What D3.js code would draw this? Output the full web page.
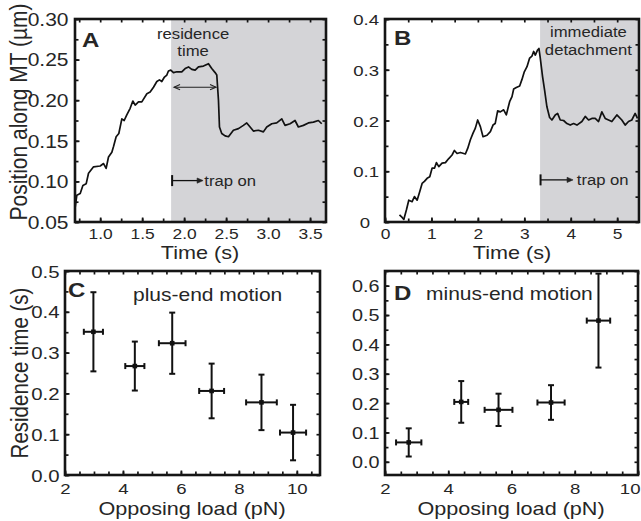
<!DOCTYPE html>
<html><head><meta charset="utf-8">
<script src="https://cdn.jsdelivr.net/npm/d3@7"></script>
<style>
body{margin:0;background:#fff}
svg{display:block}
text{font-family:"Liberation Sans",Arial,Helvetica,sans-serif;fill:#262626}
</style>
</head><body>
<svg id="c" width="641" height="521"></svg>
<script>
// ---------------- data ----------------
// Panel A: position trace (time s, position µm)
const traceATime = [0.702,0.722,0.762,0.794,0.833,0.861,0.921,1.000,1.040,1.071,1.099,1.139,1.159,1.190,1.222,1.258,1.286,1.317,1.357,1.389,1.417,1.456,1.496,1.556,1.595,1.635,1.675,1.706,1.734,1.762,1.794,1.813,1.841,1.873,1.913,1.972,2.012,2.052,2.091,2.131,2.171,2.230,2.290,2.329,2.369,2.389,2.409,2.421,2.448,2.488,2.528,2.587,2.647,2.706,2.746,2.786,2.825,2.885,2.944,2.984,3.044,3.103,3.163,3.202,3.262,3.321,3.361,3.421,3.480,3.540,3.599,3.639];
const traceAPos  = [0.068,0.083,0.085,0.095,0.097,0.110,0.118,0.119,0.122,0.116,0.130,0.136,0.143,0.155,0.159,0.177,0.175,0.182,0.190,0.199,0.194,0.198,0.198,0.208,0.210,0.216,0.223,0.225,0.223,0.228,0.231,0.236,0.237,0.234,0.235,0.235,0.239,0.241,0.238,0.237,0.241,0.242,0.245,0.239,0.234,0.231,0.200,0.167,0.159,0.156,0.155,0.163,0.165,0.169,0.172,0.167,0.162,0.163,0.161,0.167,0.171,0.172,0.177,0.169,0.171,0.175,0.167,0.169,0.172,0.173,0.175,0.171];
// Panel B: position trace
const traceBTime = [0.312,0.369,0.405,0.462,0.512,0.584,0.634,0.692,0.749,0.799,0.849,0.907,0.964,1.014,1.065,1.108,1.158,1.229,1.301,1.373,1.444,1.495,1.552,1.624,1.731,1.781,1.839,1.896,1.946,1.996,2.054,2.111,2.197,2.269,2.326,2.373,2.426,2.484,2.555,2.613,2.648,2.684,2.735,2.771,2.828,2.900,2.950,3.000,3.058,3.115,3.165,3.201,3.237,3.287,3.315,3.344,3.394,3.437,3.487,3.545,3.595,3.667,3.717,3.774,3.846,3.918,3.989,4.061,4.133,4.240,4.312,4.384,4.455,4.527,4.599,4.670,4.742,4.814,4.885,4.993,5.100,5.172,5.244,5.315,5.387,5.437];
const traceBPos  = [0.014,0.009,0.005,0.024,0.043,0.040,0.050,0.043,0.060,0.076,0.080,0.086,0.089,0.106,0.106,0.117,0.109,0.116,0.117,0.125,0.132,0.141,0.135,0.137,0.134,0.145,0.162,0.175,0.185,0.201,0.188,0.168,0.171,0.178,0.191,0.194,0.219,0.217,0.221,0.211,0.224,0.237,0.247,0.262,0.265,0.268,0.281,0.296,0.306,0.323,0.327,0.336,0.329,0.339,0.342,0.323,0.286,0.260,0.227,0.206,0.201,0.211,0.214,0.201,0.200,0.194,0.191,0.194,0.191,0.198,0.208,0.201,0.204,0.204,0.198,0.217,0.204,0.201,0.198,0.211,0.201,0.191,0.198,0.201,0.214,0.204];
// trap switched on (s)
const trapOnA = 1.845, trapOnB = 3.34;
// Panel C: plus-end motion
const plusLoad    = [2.98,4.41,5.70,7.06,8.78,9.87];
const plusLoadErr = [0.33,0.33,0.46,0.43,0.53,0.45];
const plusTime    = [0.351,0.267,0.323,0.206,0.178,0.104];
const plusTimeErr = [0.097,0.060,0.075,0.067,0.068,0.068];
// Panel D: minus-end motion
const minusLoad    = [2.75,4.41,5.59,7.25,8.75];
const minusLoadErr = [0.40,0.22,0.44,0.43,0.37];
const minusTime    = [0.066,0.204,0.177,0.202,0.481];
const minusTimeErr = [0.048,0.071,0.055,0.059,0.160];
// tick labels
const ticksAx = [1.0,1.5,2.0,2.5,3.0,3.5];
const ticksAy = [0.05,0.10,0.15,0.20,0.25,0.30];
const ticksBx = [0,1,2,3,4,5];
const ticksBy = [0,0.1,0.2,0.3,0.4];
const ticksCx = [2,4,6,8,10];
const ticksCy = [0.0,0.1,0.2,0.3,0.4,0.5];
const ticksDx = [2,4,6,8,10];
const ticksDy = [0.0,0.1,0.2,0.3,0.4,0.5,0.6];

// ---------------- drawing ----------------
const svg = d3.select("#c");
const SX = 1.2;          // horizontal stretch of the lettering
const INK = "#151515";

function makePanel(o) {
  const x = d3.scaleLinear().domain(o.xd).range([o.L, o.R]);
  const y = d3.scaleLinear().domain(o.yd).range([o.B, o.T]);
  const g = svg.append("g");
  return {x, y, g, o};
}

function stretchText(sel, px, py, size, anchor, weight, sx) {
  return sel.append("text")
    .attr("transform", `translate(${px},${py}) scale(${sx || SX},1)`)
    .attr("text-anchor", anchor || "start")
    .style("font-size", size + "px")
    .style("font-weight", weight || "normal");
}

function drawAxes(p, cfg) {
  const {x, y, g} = p;
  const [L, R] = x.range(), [B, T] = y.range();
  const xMinor = d3.range(cfg.xMin[0], cfg.xMin[1] + 1e-9, cfg.xMin[2]).filter(v => v >= x.domain()[0] - 1e-9 && v <= x.domain()[1] + 1e-9);
  const yMinor = d3.range(cfg.yMin[0], cfg.yMin[1] + 1e-9, cfg.yMin[2]).filter(v => v >= y.domain()[0] - 1e-9 && v <= y.domain()[1] + 1e-9);
  const style = s => { s.select(".domain").remove(); s.selectAll("line").attr("stroke", INK).attr("stroke-width", 1.7); };
  // minor ticks on all four sides (inward)
  g.append("g").attr("transform", `translate(0,${B})`).call(d3.axisBottom(x).tickValues(xMinor).tickSize(-3.5).tickFormat("")).call(style);
  g.append("g").attr("transform", `translate(0,${T})`).call(d3.axisTop(x).tickValues(xMinor).tickSize(-3.5).tickFormat("")).call(style);
  g.append("g").attr("transform", `translate(${L},0)`).call(d3.axisLeft(y).tickValues(yMinor).tickSize(-3.5).tickFormat("")).call(style);
  g.append("g").attr("transform", `translate(${R},0)`).call(d3.axisRight(y).tickValues(yMinor).tickSize(-3.5).tickFormat("")).call(style);
  // labelled major ticks
  const xa = g.append("g").attr("transform", `translate(0,${B})`)
    .call(d3.axisBottom(x).tickValues(cfg.xt).tickSize(-4.5).tickFormat(cfg.xf)).call(style);
  xa.selectAll("text").attr("y", cfg.xlab).attr("dy", null)
    .attr("transform", `scale(${SX},1)`).style("font-size", cfg.xfs + "px").attr("fill", "#262626");
  if (cfg.lastEnd) {
    // keep the last label inside the picture
    xa.selectAll("text").filter(d => d === cfg.xt[cfg.xt.length - 1])
      .attr("text-anchor", "end").attr("x", (640 - x(cfg.xt[cfg.xt.length - 1])) / SX);
  }
  const ya = g.append("g").attr("transform", `translate(${L},0)`)
    .call(d3.axisLeft(y).tickValues(cfg.yt).tickSize(-4.5).tickFormat(cfg.yf)).call(style);
  ya.selectAll("text").attr("x", d => -(cfg.ylab + (cfg.yshift ? cfg.yshift(d) : 0)) / SX).attr("dy", "0.36em")
    .attr("transform", `scale(${SX},1)`).style("font-size", cfg.yfs + "px").attr("fill", "#262626");
  // frame
  g.append("rect").attr("x", L).attr("y", T).attr("width", R - L).attr("height", B - T)
    .attr("fill", "none").attr("stroke", INK).attr("stroke-width", 2.6);
}

function arrowHead(g, xTip, yTip, dir, filled) {
  const len = 6, hw = 2.6;
  const pts = [[xTip - dir * len, yTip - hw], [xTip, yTip], [xTip - dir * len, yTip + hw]];
  if (filled) {
    g.append("path").attr("d", d3.line()(pts) + "Z").attr("fill", "#222").attr("stroke", "#222").attr("stroke-width", 0.6);
  } else {
    g.append("path").attr("d", d3.line()(pts)).attr("fill", "none").attr("stroke", "#222").attr("stroke-width", 1.1);
  }
}

function trapOn(g, x0, x1, yy) {
  g.append("line").attr("x1", x0).attr("x2", x0).attr("y1", yy - 5.5).attr("y2", yy + 5.5).attr("stroke", "#111").attr("stroke-width", 2);
  g.append("line").attr("x1", x0).attr("x2", x1 - 3).attr("y1", yy).attr("y2", yy).attr("stroke", "#111").attr("stroke-width", 1.3);
  arrowHead(g, x1, yy, 1, true);
}

const AN = 14.5, ANSX = 1.15;   // annotation lettering

// ---- Panel A ----
const pA = makePanel({L: 75, R: 326, T: 19, B: 222, xd: [0.7, 3.69], yd: [0.05, 0.30]});
pA.g.append("rect").attr("x", pA.x(trapOnA)).attr("y", pA.y(0.30)).attr("width", pA.x(3.69) - pA.x(trapOnA))
  .attr("height", pA.y(0.05) - pA.y(0.30)).attr("fill", "#d4d4d7");
pA.g.append("path").datum(d3.zip(traceATime, traceAPos))
  .attr("d", d3.line().x(d => pA.x(d[0])).y(d => pA.y(d[1])))
  .attr("fill", "none").attr("stroke", "#111").attr("stroke-width", 1.7).attr("stroke-linejoin", "round");
// residence time double arrow
{
  const yy = pA.y(0.216), xa = pA.x(1.88), xb = pA.x(2.38);
  pA.g.append("line").attr("x1", xa).attr("x2", xb).attr("y1", yy).attr("y2", yy).attr("stroke", "#222").attr("stroke-width", 1.1);
  arrowHead(pA.g, xa, yy, -1, false);
  arrowHead(pA.g, xb, yy, 1, false);
  stretchText(pA.g, pA.x(2.107), pA.y(0.2754), AN, "middle", null, ANSX).text("residence");
  stretchText(pA.g, pA.x(2.107), pA.y(0.2544), AN, "middle", null, ANSX).text("time");
  trapOn(pA.g, pA.x(1.857), pA.x(2.226), pA.y(0.101));
  stretchText(pA.g, pA.x(2.24), pA.y(0.101) + 5.5, AN, "start", null, ANSX).text("trap on");
}
drawAxes(pA, {xt: ticksAx, yt: ticksAy, xf: d3.format(".1f"), yf: d3.format(".2f"),
  xMin: [0.75, 3.5, 0.25], yMin: [0.05, 0.30, 0.025], xlab: 17.5, ylab: 6.5, xfs: 14.5, yfs: 17.5});
stretchText(pA.g, 82, 47, 20, "start", "bold").text("A");

// ---- Panel B ----
const pB = makePanel({L: 385, R: 639, T: 19, B: 222, xd: [0, 5.47], yd: [0, 0.4]});
pB.g.append("rect").attr("x", pB.x(trapOnB)).attr("y", pB.y(0.4)).attr("width", pB.x(5.47) - pB.x(trapOnB))
  .attr("height", pB.y(0) - pB.y(0.4)).attr("fill", "#d4d4d7");
pB.g.append("path").datum(d3.zip(traceBTime, traceBPos))
  .attr("d", d3.line().x(d => pB.x(d[0])).y(d => pB.y(d[1])))
  .attr("fill", "none").attr("stroke", "#111").attr("stroke-width", 1.7).attr("stroke-linejoin", "round");
stretchText(pB.g, pB.x(4.38), pB.y(0.3645), AN, "middle", null, ANSX).text("immediate");
stretchText(pB.g, pB.x(4.38), pB.y(0.329), AN, "middle", null, ANSX).text("detachment");
trapOn(pB.g, pB.x(3.35), pB.x(4.05), pB.y(0.083));
stretchText(pB.g, pB.x(4.13), pB.y(0.083) + 5.5, AN, "start", null, ANSX).text("trap on");
drawAxes(pB, {xt: ticksBx, yt: ticksBy, xf: d3.format("d"), yf: d => d === 0 ? "0" : d3.format(".1f")(d),
  xMin: [0, 5.5, 0.5], yMin: [0, 0.4, 0.05], xlab: 17.5, ylab: 6, yshift: d => d === 0 ? 9 : 0, xfs: 14.5, yfs: 15.5});
stretchText(pB.g, 394, 45, 20, "start", "bold").text("B");

// ---- error-bar panels ----
function errorBars(p, xs, xe, ys, ye) {
  const {x, y, g} = p;
  const cap = 3;
  const pts = xs.map((v, i) => ({x: v, xe: xe[i], y: ys[i], ye: ye[i]}));
  const eg = g.append("g").attr("stroke", "#111").attr("stroke-width", 2);
  eg.selectAll(".v").data(pts).join("line").attr("x1", d => x(d.x)).attr("x2", d => x(d.x)).attr("y1", d => y(d.y - d.ye)).attr("y2", d => y(d.y + d.ye));
  eg.selectAll(".vt").data(pts).join("line").attr("x1", d => x(d.x) - cap).attr("x2", d => x(d.x) + cap).attr("y1", d => y(d.y + d.ye)).attr("y2", d => y(d.y + d.ye));
  eg.selectAll(".vb").data(pts).join("line").attr("x1", d => x(d.x) - cap).attr("x2", d => x(d.x) + cap).attr("y1", d => y(d.y - d.ye)).attr("y2", d => y(d.y - d.ye));
  eg.selectAll(".h").data(pts).join("line").attr("x1", d => x(d.x - d.xe)).attr("x2", d => x(d.x + d.xe)).attr("y1", d => y(d.y)).attr("y2", d => y(d.y));
  eg.selectAll(".hl").data(pts).join("line").attr("x1", d => x(d.x - d.xe)).attr("x2", d => x(d.x - d.xe)).attr("y1", d => y(d.y) - cap).attr("y2", d => y(d.y) + cap);
  eg.selectAll(".hr").data(pts).join("line").attr("x1", d => x(d.x + d.xe)).attr("x2", d => x(d.x + d.xe)).attr("y1", d => y(d.y) - cap).attr("y2", d => y(d.y) + cap);
  g.selectAll(".pt").data(pts).join("rect").attr("x", d => x(d.x) - 2.3).attr("y", d => y(d.y) - 2.3)
    .attr("width", 4.6).attr("height", 4.6).attr("fill", "#111");
}

const pC = makePanel({L: 65, R: 320, T: 271, B: 475, xd: [2, 10.8], yd: [0, 0.5]});
errorBars(pC, plusLoad, plusLoadErr, plusTime, plusTimeErr);
drawAxes(pC, {xt: ticksCx, yt: ticksCy, xf: d3.format("d"), yf: d3.format(".1f"),
  xMin: [2, 10.5, 0.5], yMin: [0, 0.5, 0.05], xlab: 19.5, ylab: 5.5, xfs: 15.5, yfs: 17});
stretchText(pC.g, 68, 297, 20, "start", "bold").text("C");
stretchText(pC.g, 133, 301, 17.5, "start").text("plus-end motion");

// ---- Panel D ----
const pD = makePanel({L: 385, R: 638, T: 271, B: 475, xd: [2, 10], yd: [-0.045, 0.65]});
errorBars(pD, minusLoad, minusLoadErr, minusTime, minusTimeErr);
drawAxes(pD, {xt: ticksDx, yt: ticksDy, xf: d3.format("d"), yf: d3.format(".1f"),
  xMin: [2, 10, 0.5], yMin: [0, 0.65, 0.05], xlab: 19.5, ylab: 5.5, xfs: 15.5, yfs: 16.5, lastEnd: true});
stretchText(pD.g, 394, 300, 20, "start", "bold").text("D");
stretchText(pD.g, 426, 300, 17.5, "start").text("minus-end motion");

// ---- axis titles ----
const TS = 18;
stretchText(svg, 200, 259, TS, "middle").text("Time (s)");
stretchText(svg, 512, 259, TS, "middle").text("Time (s)");
stretchText(svg, 192, 515, TS, "middle").text("Opposing load (pN)");
stretchText(svg, 511, 515, TS, "middle").text("Opposing load (pN)");
svg.append("text").attr("transform", "translate(27,112) rotate(-90) scale(1,1.15)").attr("text-anchor", "middle")
  .style("font-size", "21px").text("Position along MT (µm)");
svg.append("text").attr("transform", "translate(28,373) rotate(-90) scale(1,1.15)").attr("text-anchor", "middle")
  .style("font-size", "20.5px").text("Residence time (s)");
</script>
</body></html>
